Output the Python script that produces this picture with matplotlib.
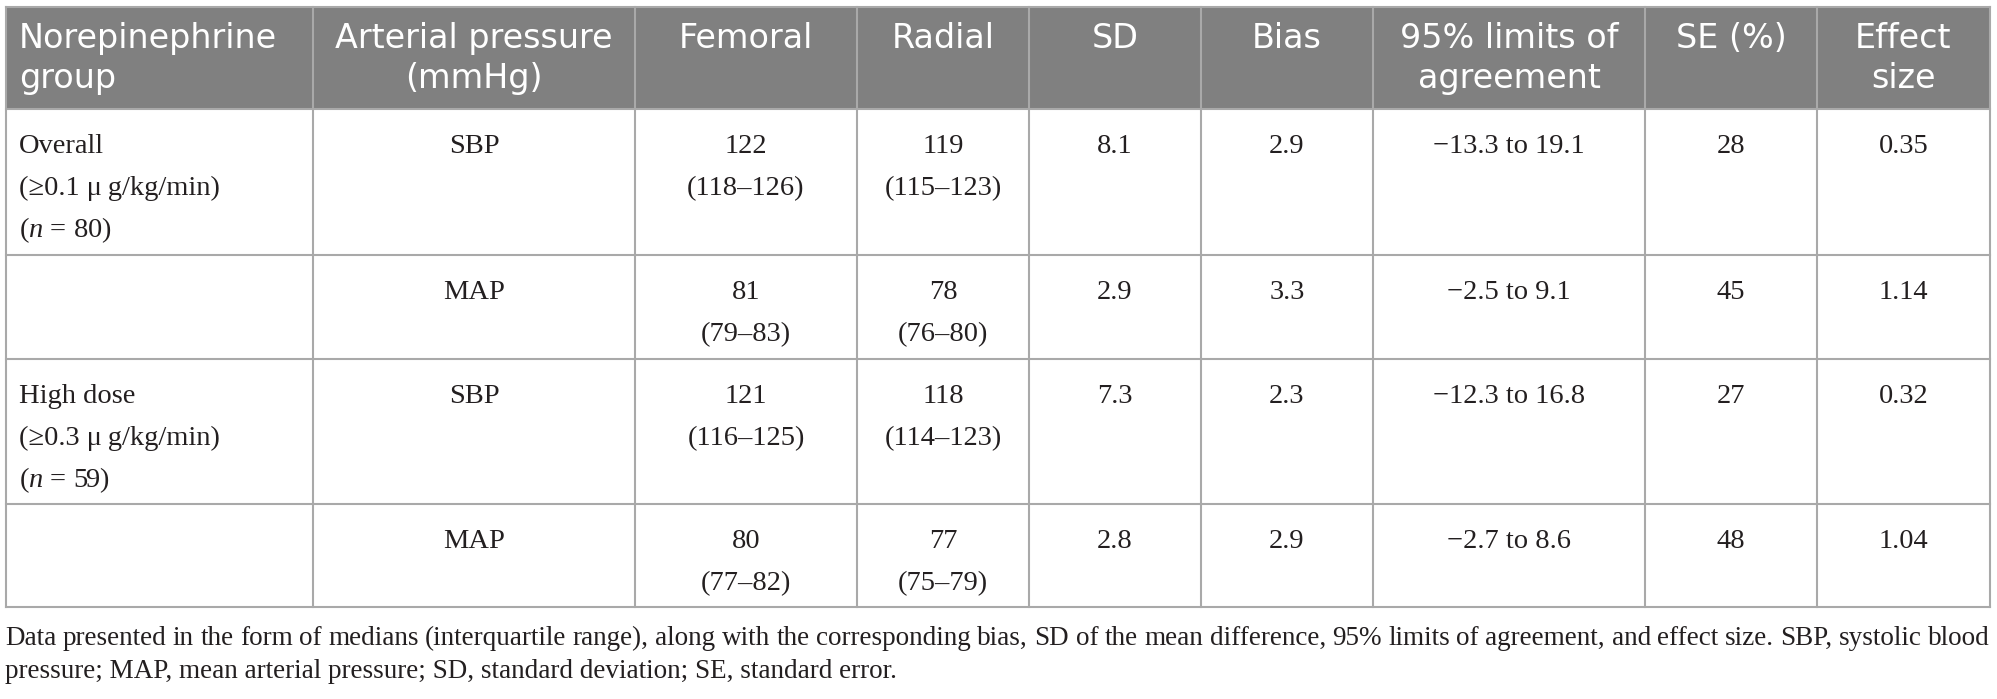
import matplotlib
matplotlib.use("Agg")
import matplotlib.pyplot as plt
from matplotlib.patches import Rectangle

# ---------------- data ----------------
headers = [["Norepinephrine", "group"], ["Arterial pressure", "(mmHg)"], ["Femoral"], ["Radial"],
           ["SD"], ["Bias"], ["95% limits of", "agreement"], ["SE (%)"], ["Effect", "size"]]
groups = [["Overall", "(≥0.1 μ\u2009g/kg/min)", "($n$ = 80)"], [],
          ["High dose", "(≥0.3 μ\u2009g/kg/min)", "($n$ = 59)"], []]
pressure = ["SBP", "MAP", "SBP", "MAP"]
femoral_median = [122, 81, 121, 80]
femoral_iqr = ["118–126", "79–83", "116–125", "77–82"]
radial_median = [119, 78, 118, 77]
radial_iqr = ["115–123", "76–80", "114–123", "75–79"]
sd_vals = [8.1, 2.9, 7.3, 2.8]
bias_vals = [2.9, 3.3, 2.3, 2.9]
loa = ["−13.3 to 19.1", "−2.5 to 9.1", "−12.3 to 16.8", "−2.7 to 8.6"]
se_pct = [28, 45, 27, 48]
effect_size = [0.35, 1.14, 0.32, 1.04]
footnote = ("Data presented in the form of medians (interquartile range), along with the corresponding bias, "
            "SD of the mean difference, 95% limits of agreement, and effect size. SBP, systolic blood",
            "pressure; MAP, mean arterial pressure; SD, standard deviation; SE, standard error.")

# ---------------- layout ----------------
W, H = 1997, 699
col_x = [6, 313, 635, 857, 1029, 1201, 1373, 1645, 1817, 1990]
row_y = [7, 109, 255, 359, 504, 607]
header_base = [48, 88]
line_gap = 42
first_off = 44
foot_base = [645, 678]

plt.rcParams['mathtext.fontset'] = 'custom'
plt.rcParams['mathtext.rm'] = 'Liberation Serif'
plt.rcParams['mathtext.it'] = 'Liberation Serif:italic'

fig = plt.figure(figsize=(W / 100, H / 100), dpi=100)
fig.patch.set_facecolor('white')
ax = fig.add_axes([0, 0, 1, 1])
ax.set_xlim(0, W)
ax.set_ylim(H, 0)
ax.axis('off')

HEAD_BG = '#808080'
GRID = '#a9a9a9'
TXT = '#231f20'
head_font = dict(family='DejaVu Sans', size=24, color='white')
body_font = dict(family='Liberation Serif', size=20.5, color=TXT)

ax.add_patch(Rectangle((col_x[0], row_y[0]), col_x[-1] - col_x[0], row_y[1] - row_y[0],
                       facecolor=HEAD_BG, edgecolor='none', zorder=0))

# grid lines
lw = 1.5
for y in row_y:
    ax.plot([col_x[0], col_x[-1]], [y, y], color=GRID, lw=lw, solid_capstyle='projecting', zorder=2)
for x in col_x:
    ax.plot([x, x], [row_y[0], row_y[-1]], color=GRID, lw=lw, solid_capstyle='projecting', zorder=2)

# header
for j, lines in enumerate(headers):
    if j == 0:
        x, ha = col_x[0] + 13, 'left'
    else:
        x, ha = (col_x[j] + col_x[j + 1]) / 2, 'center'
    for k, t in enumerate(lines):
        ax.text(x, header_base[k], t, ha=ha, va='baseline', **head_font)

# body
def cell(j, i, lines):
    top = row_y[i + 1]
    if j == 0:
        x, ha = col_x[0] + 13, 'left'
    else:
        x, ha = (col_x[j] + col_x[j + 1]) / 2, 'center'
    for k, t in enumerate(lines):
        ax.text(x, top + first_off + k * line_gap, t, ha=ha, va='baseline', **body_font)

for i in range(4):
    cell(0, i, groups[i])
    cell(1, i, [pressure[i]])
    cell(2, i, [str(femoral_median[i]), f"({femoral_iqr[i]})"])
    cell(3, i, [str(radial_median[i]), f"({radial_iqr[i]})"])
    cell(4, i, [f"{sd_vals[i]:.1f}"])
    cell(5, i, [f"{bias_vals[i]:.1f}"])
    cell(6, i, [loa[i]])
    cell(7, i, [str(se_pct[i])])
    cell(8, i, [f"{effect_size[i]:.2f}"])

# footnote: first line justified to table width, second left aligned
fig.canvas.draw()
renderer = fig.canvas.get_renderer()
foot_font = dict(family='Liberation Serif', size=19.5, color=TXT)
left, right = col_x[0] - 1, col_x[-1]
words = footnote[0].split(' ')
objs = [ax.text(0, foot_base[0], w, ha='left', va='baseline', **foot_font) for w in words]
fig.canvas.draw()
inv = ax.transData.inverted()
widths = []
for o in objs:
    bb = o.get_window_extent(renderer)
    p0 = inv.transform((bb.x0, bb.y0)); p1 = inv.transform((bb.x1, bb.y0))
    widths.append(p1[0] - p0[0])
space = (right - left - sum(widths)) / (len(words) - 1)
x = left
for o, w in zip(objs, widths):
    o.set_x(x)
    x += w + space
ax.text(left, foot_base[1], footnote[1], ha='left', va='baseline', **foot_font)

fig.savefig('out.png', dpi=100, facecolor='white')
